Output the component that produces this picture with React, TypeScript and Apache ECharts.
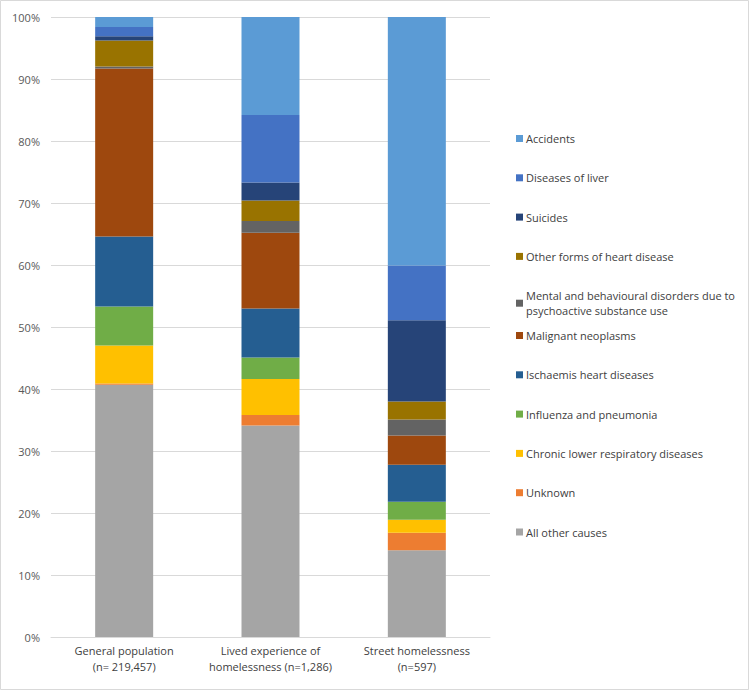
import React, { useEffect, useRef } from "react";
import * as echarts from "echarts";

const categories = [
  "General population\n(n= 219,457)",
  "Lived experience of\nhomelessness (n=1,286)",
  "Street homelessness\n(n=597)",
];

const yTicks = [0, 10, 20, 30, 40, 50, 60, 70, 80, 90, 100];

// Percent of deaths per cause (bottom of stack first)
const allOtherCauses = [40.7, 34.1, 14.0];
const unknown = [0.2, 1.7, 2.8];
const chronicLowerResp = [6.1, 5.8, 2.1];
const influenzaPneumonia = [6.3, 3.5, 2.9];
const ischaemicHeart = [11.3, 7.9, 6.0];
const malignantNeoplasms = [27.1, 12.2, 4.7];
const mentalDisorders = [0.3, 1.9, 2.6];
const otherHeart = [4.2, 3.3, 2.9];
const suicides = [0.7, 2.9, 13.1];
const liverDiseases = [1.5, 10.9, 8.8];
const accidents = [1.6, 15.8, 40.1];

const seriesDefs = [
  { name: "All other causes", data: allOtherCauses, color: "#A5A5A5" },
  { name: "Unknown", data: unknown, color: "#ED7D31" },
  { name: "Chronic lower respiratory diseases", data: chronicLowerResp, color: "#FFC000" },
  { name: "Influenza and pneumonia", data: influenzaPneumonia, color: "#70AD47" },
  { name: "Ischaemis heart diseases", data: ischaemicHeart, color: "#255E91" },
  { name: "Malignant neoplasms", data: malignantNeoplasms, color: "#9E480E" },
  {
    name: "Mental and behavioural disorders due to\npsychoactive substance use",
    data: mentalDisorders,
    color: "#636363",
  },
  { name: "Other forms of heart disease", data: otherHeart, color: "#997300" },
  { name: "Suicides", data: suicides, color: "#264478" },
  { name: "Diseases of liver", data: liverDiseases, color: "#4472C4" },
  { name: "Accidents", data: accidents, color: "#5B9BD5" },
];

const legendTop = seriesDefs.slice(6).map((s) => s.name).reverse();
const legendBottom = seriesDefs.slice(0, 6).map((s) => s.name).reverse();

export default function App() {
  const ref = useRef<HTMLDivElement>(null);

  useEffect(() => {
    document.body.style.margin = "0";
    if (!ref.current) return;
    const chart = echarts.init(ref.current, undefined, { renderer: "svg" });
    const fontFamily = "'Open Sans', 'Noto Sans', sans-serif";
    const legendCommon = {
      orient: "vertical" as const,
      left: 511,
      itemWidth: 7,
      itemHeight: 7,
      itemGap: 24.3,
      icon: "rect",
      selectedMode: false,
      textStyle: { fontFamily, fontSize: 11, color: "#404040", lineHeight: 15, padding: [0, 0, 0, -2] },
    };
    chart.setOption({
      animation: false,
      backgroundColor: "#ffffff",
      textStyle: { fontFamily },
      graphic: [
        {
          type: "rect",
          shape: { x: 0.5, y: 0.5, width: 748, height: 689 },
          style: { fill: "none", stroke: "#d9d9d9", lineWidth: 1 },
          silent: true,
        },
      ],
      grid: { left: 51, right: 260, top: 17, bottom: 54 },
      legend: [
        { ...legendCommon, top: 126, data: legendTop },
        { ...legendCommon, top: 323, data: legendBottom },
      ],
      xAxis: {
        type: "category",
        data: categories,
        axisTick: { show: false },
        axisLine: { lineStyle: { color: "#d9d9d9" } },
        axisLabel: {
          color: "#404040",
          fontSize: 11,
          lineHeight: 16,
          margin: 5,
          interval: 0,
        },
      },
      yAxis: {
        type: "value",
        min: yTicks[0],
        max: yTicks[yTicks.length - 1],
        interval: 10,
        axisLine: { show: false },
        axisTick: { show: false },
        splitLine: { lineStyle: { color: "#d9d9d9" } },
        axisLabel: { formatter: "{value}%", color: "#595959", fontSize: 11, margin: 11 },
      },
      series: seriesDefs.map((s) => ({
        name: s.name,
        type: "bar",
        stack: "total",
        data: s.data,
        barWidth: 58,
        itemStyle: { color: s.color },
        emphasis: { disabled: true },
      })),
    });
    return () => chart.dispose();
  }, []);

  return <div ref={ref} style={{ width: 750, height: 691 }} />;
}
